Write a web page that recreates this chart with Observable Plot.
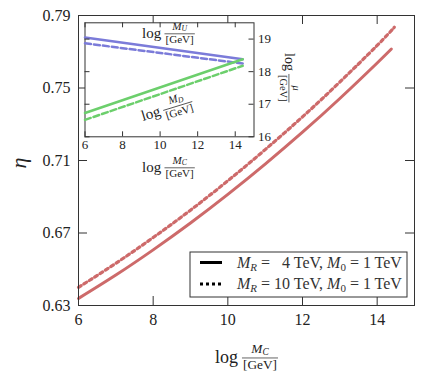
<!DOCTYPE html>
<html><head><meta charset="utf-8">
<script src="https://cdn.jsdelivr.net/npm/d3@7"></script>
<script src="https://cdn.jsdelivr.net/npm/@observablehq/plot@0.6"></script>
<style>body{margin:0;background:#fff}</style>
</head><body><div id="chart"></div>
<script>
const FONT = "Liberation Serif, DejaVu Serif, serif";

// ---- main chart data: eta vs log(M_C/GeV)
const mcGrid4  = [6, 7, 8, 9, 10, 11, 12, 13, 14, 14.38];
const eta4     = [0.6339, 0.6468, 0.6607, 0.6755, 0.6913, 0.7080, 0.7256, 0.7442, 0.7638, 0.7715];
const mcGrid10 = [6, 7, 8, 9, 10, 11, 12, 13, 14, 14.46];
const eta10    = [0.6400, 0.6533, 0.6675, 0.6826, 0.6988, 0.7160, 0.7341, 0.7533, 0.7735, 0.7835];
const mainXTicks = [6, 8, 10, 12, 14];
const mainYTicks = [0.63, 0.67, 0.71, 0.75, 0.79];

// ---- inset data: log(M/GeV) vs log(M_C/GeV)
const insetMC  = [6, 14.4];
const logMU4   = [19.05, 18.38];
const logMU10  = [18.87, 18.25];
const logMD4   = [16.73, 18.38];
const logMD10  = [16.52, 18.18];
const insetXTicks = [6, 8, 10, 12, 14];
const insetYTicks = [16, 17, 18, 19];

// ---- legend
const legendMR = ["\u20074", "10"];
const legendM0 = ["1", "1"];
const legendDash = [null, "3,3"];

const red = "#cd6a6a", blue = "#7b7bd9", green = "#6ccf6c", ink = "#222", frameInk = "#333";
const rows = (xs, ys) => xs.map((x, i) => ({x, y: ys[i]}));

// layout
const M = {w: 422, h: 380, l: 78, r: 8, t: 15, b: 75, tick: 9};
const Mi = {w: 300, h: 185, l: 24.5, r: 106.5, t: 22.3, b: 48.7, tick: 5};
const innerW = o => o.w - o.l - o.r;
const innerH = o => o.h - o.t - o.b;

function frameTicks(o, xt, yt) {
  return [
    Plot.tickX(xt, {x: d => d, insetTop: innerH(o) - o.tick, stroke: frameInk}),
    Plot.tickX(xt, {x: d => d, insetBottom: innerH(o) - o.tick, stroke: frameInk}),
    Plot.tickY(yt, {y: d => d, insetRight: innerW(o) - o.tick, stroke: frameInk}),
    Plot.tickY(yt, {y: d => d, insetLeft: innerW(o) - o.tick, stroke: frameInk})
  ];
}

const main = Plot.plot({
  width: M.w, height: M.h,
  marginLeft: M.l, marginRight: M.r, marginTop: M.t, marginBottom: M.b,
  style: {fontFamily: FONT, fontSize: "16px", color: ink, background: "white", overflow: "visible"},
  x: {domain: [6, 15]},
  y: {domain: [0.63, 0.79]},
  marks: [
    Plot.line(rows(mcGrid4, eta4), {x: "x", y: "y", stroke: red, strokeWidth: 3, curve: "natural"}),
    Plot.line(rows(mcGrid10, eta10), {x: "x", y: "y", stroke: red, strokeWidth: 3.2, strokeDasharray: "3.2,3.2", curve: "natural"}),
    Plot.frame({stroke: frameInk, strokeWidth: 1}),
    ...frameTicks(M, mainXTicks, mainYTicks),
    Plot.axisX(mainXTicks, {anchor: "bottom", tickSize: 0, tickPadding: 8, label: null, tickFormat: d => String(d)}),
    Plot.axisY(mainYTicks, {anchor: "left", tickSize: 0, tickPadding: 8, label: null, tickFormat: d3.format(".2f")})
  ]
});

const inset = Plot.plot({
  width: Mi.w, height: Mi.h,
  marginLeft: Mi.l, marginRight: Mi.r, marginTop: Mi.t, marginBottom: Mi.b,
  style: {fontFamily: FONT, fontSize: "13px", color: ink, background: "none", overflow: "visible"},
  x: {domain: [6, 15]},
  y: {domain: [16, 19.5]},
  marks: [
    Plot.frame({fill: "white", stroke: frameInk, strokeWidth: 1}),
    Plot.line(rows(insetMC, logMU4), {x: "x", y: "y", stroke: blue, strokeWidth: 2.5}),
    Plot.line(rows(insetMC, logMU10), {x: "x", y: "y", stroke: blue, strokeWidth: 2.5, strokeDasharray: "6,3"}),
    Plot.line(rows(insetMC, logMD4), {x: "x", y: "y", stroke: green, strokeWidth: 2.5}),
    Plot.line(rows(insetMC, logMD10), {x: "x", y: "y", stroke: green, strokeWidth: 2.5, strokeDasharray: "6,3"}),
    ...frameTicks(Mi, insetXTicks, insetYTicks),
    Plot.axisX(insetXTicks, {anchor: "bottom", tickSize: 0, tickPadding: 3, label: null, tickFormat: d => String(d)}),
    Plot.axisY(insetYTicks, {anchor: "right", tickSize: 0, tickPadding: 4, label: null, tickFormat: d => String(d)})
  ]
});

document.getElementById("chart").appendChild(main);
const svg = d3.select(main);
svg.append(() => inset).attr("x", 60).attr("y", 0)
  .style("width", Mi.w + "px").style("height", Mi.h + "px").style("max-width", "none").style("display", "inline");

function mathLabel(sel, {x, y, rotate = 0, size, num, sub = null}) {
  const g = sel.append("g").attr("transform", `translate(${x},${y}) rotate(${rotate})`)
    .attr("font-family", FONT).attr("fill", ink).attr("text-anchor", "start");
  const logT = g.append("text").attr("font-size", size).text("log");
  const lw = logT.node().getComputedTextLength();
  const f = size * 0.74;
  const barY = -0.28 * size;
  const x0 = lw + size * 0.22;
  const nt = g.append("text").attr("font-size", f).attr("y", barY - 0.36 * f).attr("text-anchor", "middle");
  nt.append("tspan").attr("font-style", "italic").text(num);
  if (sub) nt.append("tspan").attr("font-style", "italic").attr("font-size", f * 0.7).attr("dy", f * 0.12).text(sub);
  const dt = g.append("text").attr("font-size", f).attr("y", barY + 0.86 * f).attr("text-anchor", "middle").text("[GeV]");
  const W = Math.max(nt.node().getComputedTextLength(), dt.node().getComputedTextLength()) + 2;
  nt.attr("x", x0 + W / 2); dt.attr("x", x0 + W / 2);
  g.append("line").attr("x1", x0).attr("x2", x0 + W).attr("y1", barY).attr("y2", barY)
    .attr("stroke", ink).attr("stroke-width", 0.7);
}

// axis labels
mathLabel(svg, {x: 215, y: 363, size: 18, num: "M", sub: "C"});
mathLabel(svg, {x: 142, y: 172, size: 15, num: "M", sub: "C"});
mathLabel(svg, {x: 142, y: 38, size: 15, num: "M", sub: "U"});
mathLabel(svg, {x: 143, y: 121, rotate: -17, size: 15, num: "M", sub: "D"});
mathLabel(svg, {x: 285, y: 53, rotate: 90, size: 14, num: "\u03bc"});
svg.append("text").attr("transform", "translate(26,163) rotate(-90)").attr("text-anchor", "middle")
  .attr("font-family", FONT).attr("font-size", 22).attr("font-style", "italic").attr("fill", ink).text("\u03b7");

// legend
const lg = svg.append("g").attr("font-family", FONT).attr("font-size", 16).attr("fill", "#333").attr("text-anchor", "start");
lg.append("rect").attr("x", 190).attr("y", 252).attr("width", 217).attr("height", 45)
  .attr("fill", "white").attr("stroke", frameInk).attr("stroke-width", 1);
legendMR.forEach((mr, i) => {
  const cy = 262.5 + i * 21.5;
  lg.append("line").attr("x1", 200).attr("x2", 222).attr("y1", cy).attr("y2", cy)
    .attr("stroke", "#000").attr("stroke-width", 3).attr("stroke-dasharray", legendDash[i]);
  const t = lg.append("text").attr("x", 237).attr("y", cy + 5);
  t.append("tspan").attr("font-style", "italic").text("M");
  t.append("tspan").attr("font-style", "italic").attr("font-size", 11).attr("dy", 3).text("R");
  t.append("tspan").attr("dy", -3).text(` = ${mr} TeV, `);
  t.append("tspan").attr("font-style", "italic").text("M");
  t.append("tspan").attr("font-size", 11).attr("dy", 3).text("0");
  t.append("tspan").attr("dy", -3).text(` = ${legendM0[i]} TeV`);
});
</script>
</body></html>
